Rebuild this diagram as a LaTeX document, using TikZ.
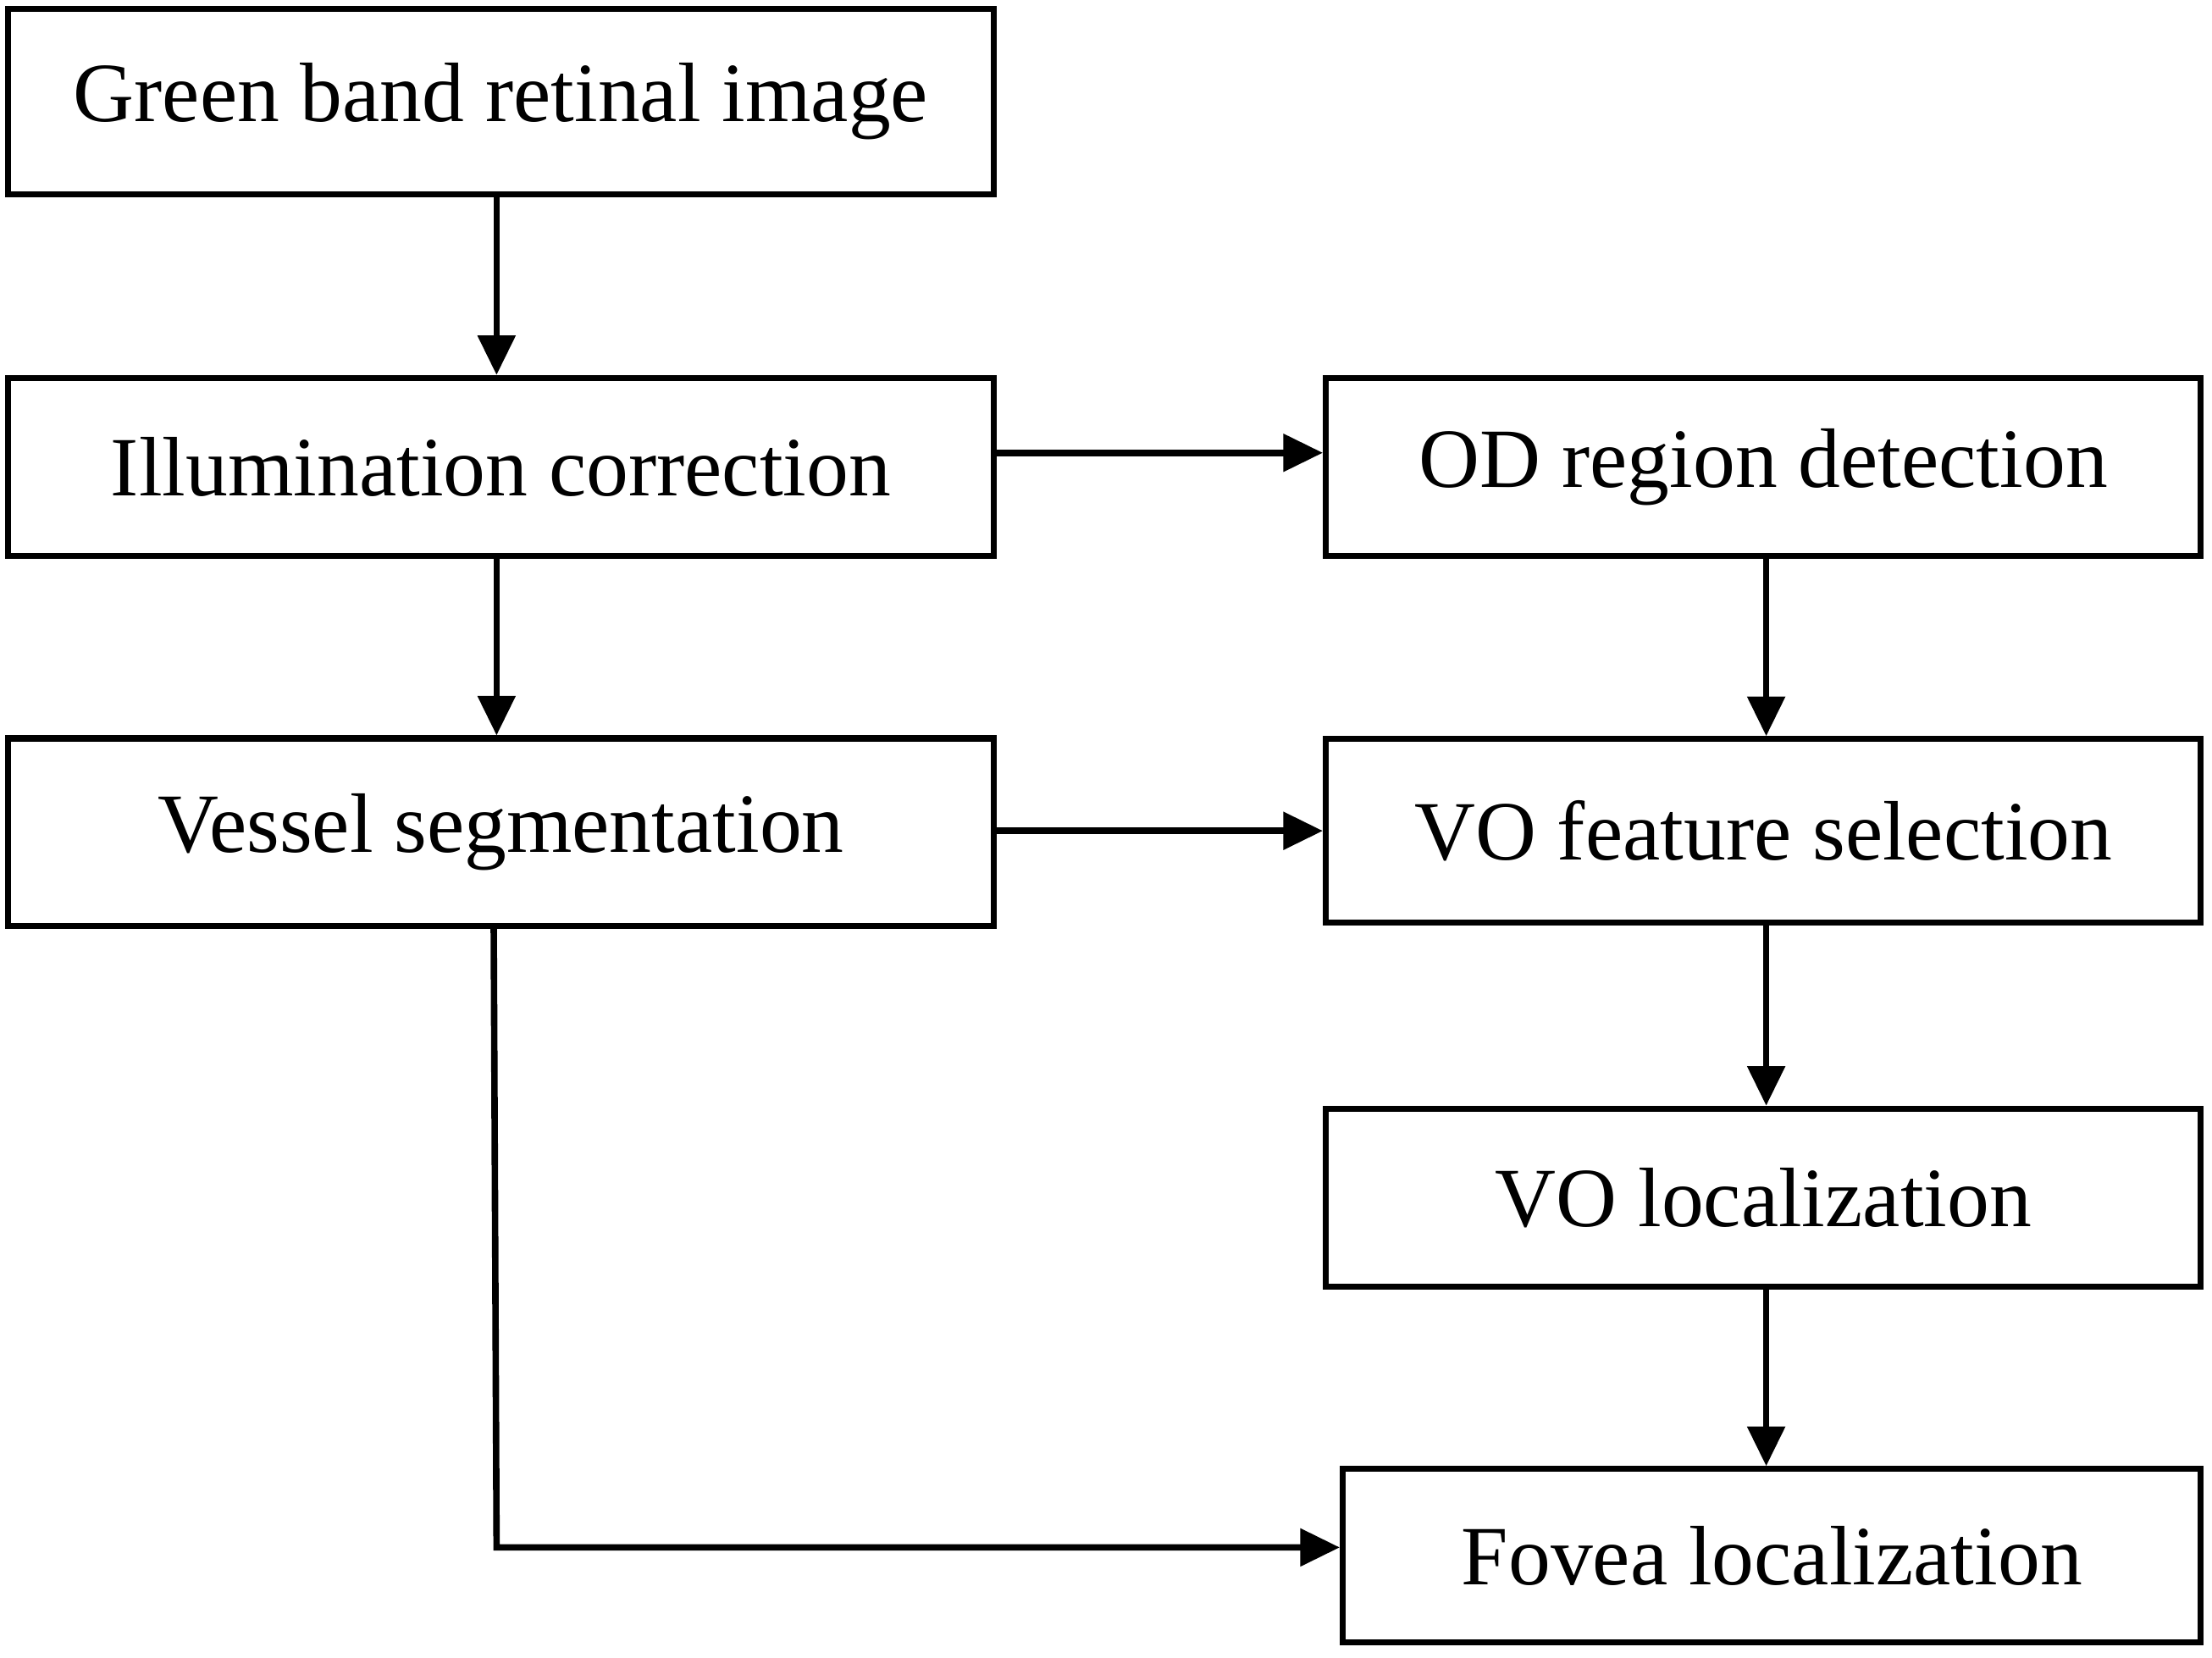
\documentclass[tikz,border=0pt]{standalone}
\usepackage{fontspec}
\setmainfont{Liberation Serif}
\usetikzlibrary{arrows.meta}
\begin{document}
\begin{tikzpicture}[x=0.01cm,y=-0.01cm,
  box/.style={rectangle,draw=black,line width=1.2pt,inner sep=0pt,font=\fontsize{17}{20}\selectfont},
  arrow/.style={line width=1.3pt,-{Triangle[length=0.28cm,width=0.26cm]}}]
\useasboundingbox (0,0) rectangle (1568,1175);
\node (g) [box,minimum width=6.98cm,minimum height=1.31cm] at (355,72) {Green band retinal image};
\node (i) [box,minimum width=6.98cm,minimum height=1.26cm] at (355,331) {Illumination correction};
\node (v) [box,minimum width=6.98cm,minimum height=1.33cm] at (355,590) {Vessel segmentation};
\node (o) [box,minimum width=6.20cm,minimum height=1.26cm] at (1250,331) {OD region detection};
\node (f) [box,minimum width=6.20cm,minimum height=1.30cm] at (1250,589) {VO feature selection};
\node (l) [box,minimum width=6.20cm,minimum height=1.26cm] at (1250,849) {VO localization};
\node (fo) [box,minimum width=6.08cm,minimum height=1.23cm] at (1256,1103) {Fovea localization};
\draw [arrow] (g.south -| 352,0) -- (i.north -| 352,0);
\draw [arrow] (i.south -| 352,0) -- (v.north -| 352,0);
\draw [arrow] (i.east |- 0,321) -- (o.west |- 0,321);
\draw [arrow] (v.east |- 0,589) -- (f.west |- 0,589);
\draw [arrow] (o.south -| 1252,0) -- (f.north -| 1252,0);
\draw [arrow] (f.south -| 1252,0) -- (l.north -| 1252,0);
\draw [arrow] (l.south -| 1252,0) -- (fo.north -| 1252,0);
\draw [arrow] (v.south -| 350,0) -- (352,1097) -- (fo.west |- 0,1097);
\end{tikzpicture}
\end{document}
